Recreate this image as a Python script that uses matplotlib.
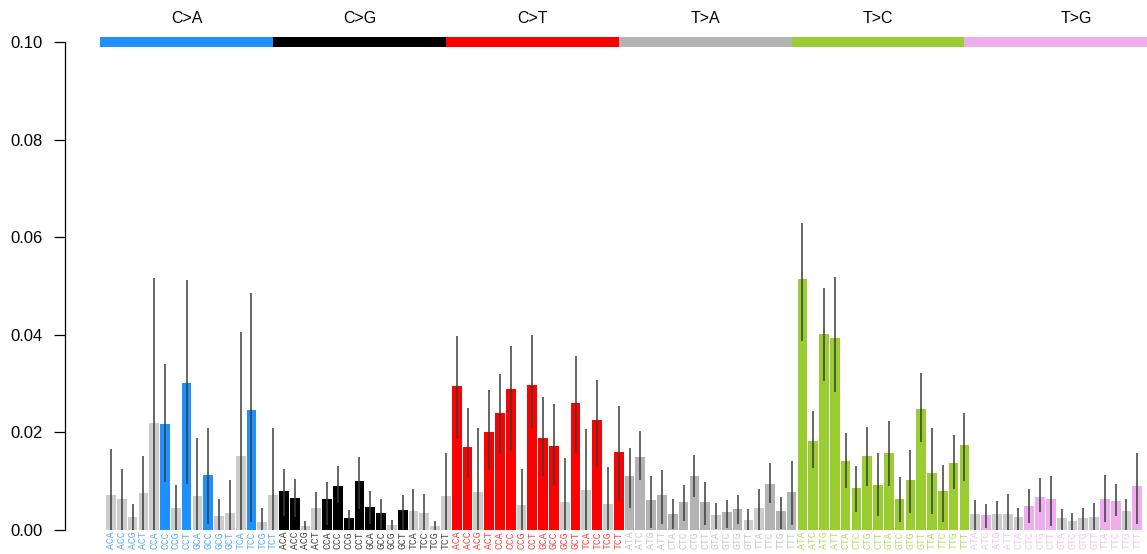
import numpy as np
import matplotlib.pyplot as plt
from matplotlib.patches import Rectangle

plt.rcParams['font.family'] = ['Liberation Sans', 'DejaVu Sans']

classes = ['C>A', 'C>G', 'C>T', 'T>A', 'T>C', 'T>G']
class_colors = ['#1E90FF', '#000000', '#FF0000', '#B3B3B3', '#9ACD32', '#EEAEEE']
nonsig_color = '#CCCCCC'

# trinucleotide contexts (16 per class)
c_contexts = ['ACA', 'ACC', 'ACG', 'ACT', 'CCA', 'CCC', 'CCG', 'CCT',
              'GCA', 'GCC', 'GCG', 'GCT', 'TCA', 'TCC', 'TCG', 'TCT']
t_contexts = ['ATA', 'ATC', 'ATG', 'ATT', 'CTA', 'CTC', 'CTG', 'CTT',
              'GTA', 'GTC', 'GTG', 'GTT', 'TTA', 'TTC', 'TTG', 'TTT']

# C>A
ca_val = [0.0072, 0.0064, 0.0027, 0.0076, 0.0220, 0.0217, 0.0045, 0.0301,
          0.0070, 0.0113, 0.0029, 0.0035, 0.0152, 0.0246, 0.0016, 0.0072]
ca_lo = [0, 0, 0, 0, 0, 0.0098, 0, 0.0094, 0, 0.0012, 0, 0, 0, 0.0017, 0, 0]
ca_hi = [0.0165, 0.0126, 0.0053, 0.0152, 0.0516, 0.0340, 0.0092, 0.0512,
         0.0188, 0.0208, 0.0063, 0.0102, 0.0405, 0.0486, 0.0046, 0.0210]
ca_sig = [0, 0, 0, 0, 0, 1, 0, 1, 0, 1, 0, 0, 0, 1, 0, 0]

# C>G
cg_val = [0.0080, 0.0066, 0.0008, 0.0045, 0.0064, 0.0090, 0.0025, 0.0100,
          0.0047, 0.0035, 0.0010, 0.0041, 0.0039, 0.0035, 0.0008, 0.0070]
cg_lo = [0.0029, 0.0026, 0, 0, 0.0010, 0.0056, 0.0003, 0.0044,
         0.0012, 0.0003, 0, 0, 0, 0, 0, 0]
cg_hi = [0.0126, 0.0104, 0.0018, 0.0078, 0.0098, 0.0132, 0.0042, 0.0150,
         0.0079, 0.0063, 0.0020, 0.0072, 0.0085, 0.0074, 0.0018, 0.0158]
cg_sig = [1, 1, 0, 0, 1, 1, 1, 1, 1, 1, 0, 1, 0, 0, 0, 0]

# C>T
ct_val = [0.0295, 0.0170, 0.0078, 0.0201, 0.0240, 0.0289, 0.0052, 0.0297,
          0.0189, 0.0172, 0.0057, 0.0260, 0.0082, 0.0225, 0.0053, 0.0160]
ct_lo = [0.0187, 0.0107, 0, 0.0126, 0.0158, 0.0161, 0, 0.0208,
         0.0111, 0.0093, 0, 0.0156, 0, 0.0130, 0, 0.0059]
ct_hi = [0.0398, 0.0251, 0.0210, 0.0286, 0.0320, 0.0377, 0.0125, 0.0400,
         0.0272, 0.0258, 0.0148, 0.0357, 0.0206, 0.0307, 0.0130, 0.0255]
ct_sig = [1, 1, 0, 1, 1, 1, 0, 1, 1, 1, 0, 1, 0, 1, 0, 1]

# T>A
ta_val = [0.0111, 0.0150, 0.0061, 0.0072, 0.0033, 0.0057, 0.0111, 0.0057,
          0.0031, 0.0037, 0.0043, 0.0020, 0.0045, 0.0094, 0.0039, 0.0078]
ta_lo = [0.0045, 0.0102, 0.0004, 0.0012, 0.0003, 0.0018, 0.0067, 0.0011,
         0.0003, 0.0005, 0.0012, 0, 0, 0.0056, 0.0003, 0.0010]
ta_hi = [0.0169, 0.0203, 0.0111, 0.0123, 0.0063, 0.0092, 0.0154, 0.0098,
         0.0055, 0.0061, 0.0071, 0.0044, 0.0085, 0.0138, 0.0067, 0.0141]
ta_sig = [1, 1, 1, 1, 1, 1, 1, 1, 0, 1, 1, 0, 0, 1, 1, 1]

# T>C
tc_val = [0.0514, 0.0182, 0.0402, 0.0393, 0.0141, 0.0086, 0.0152, 0.0092,
          0.0158, 0.0064, 0.0102, 0.0248, 0.0117, 0.0080, 0.0137, 0.0174]
tc_lo = [0.0388, 0.0128, 0.0306, 0.0282, 0.0087, 0.0036, 0.0091, 0.0029,
         0.0091, 0.0017, 0.0035, 0.0181, 0.0033, 0.0017, 0.0084, 0.0101]
tc_hi = [0.0630, 0.0243, 0.0495, 0.0518, 0.0199, 0.0132, 0.0212, 0.0157,
         0.0223, 0.0109, 0.0163, 0.0321, 0.0208, 0.0133, 0.0195, 0.0239]
tc_sig = [1] * 16

# T>G
tg_val = [0.0033, 0.0031, 0.0033, 0.0033, 0.0027, 0.0049, 0.0068, 0.0064,
          0.0025, 0.0018, 0.0025, 0.0027, 0.0064, 0.0059, 0.0039, 0.0090]
tg_lo = [0, 0.0005, 0, 0, 0, 0.0015, 0.0037, 0.0009,
         0, 0, 0, 0, 0.0017, 0.0029, 0, 0.0012]
tg_hi = [0.0061, 0.0053, 0.0059, 0.0074, 0.0046, 0.0083, 0.0106, 0.0111,
         0.0044, 0.0034, 0.0046, 0.0055, 0.0113, 0.0094, 0.0064, 0.0158]
tg_sig = [0, 1, 0, 0, 0, 1, 1, 1, 0, 0, 0, 0, 1, 1, 0, 1]

vals = ca_val + cg_val + ct_val + ta_val + tc_val + tg_val
lows = ca_lo + cg_lo + ct_lo + ta_lo + tc_lo + tg_lo
highs = ca_hi + cg_hi + ct_hi + ta_hi + tc_hi + tg_hi
sigs = ca_sig + cg_sig + ct_sig + ta_sig + tc_sig + tg_sig
labels = c_contexts * 3 + t_contexts * 3

x = np.arange(len(vals))
cls_idx = x // 16
bar_colors = [class_colors[c] if s else nonsig_color for c, s in zip(cls_idx, sigs)]
label_colors = [class_colors[c] for c in cls_idx]

fig = plt.figure(figsize=(11.47, 5.54), dpi=100)
ax = fig.add_axes([65 / 1147, 24 / 554, 1 - 65 / 1147, 530 / 554])
ax.set_xlim(-4.26, 95.9)
ax.set_ylim(0, 0.1086)

ax.bar(x, vals, width=0.9, color=bar_colors, edgecolor='none')
ax.vlines(x, lows, highs, color='#3c3c3c', lw=1.1)

# class strip on top
strip_edges = [-1, 15, 31, 47, 63, 79, 99.8]
for k, cls in enumerate(classes):
    a, b = strip_edges[k], strip_edges[k + 1]
    ax.add_patch(Rectangle((a, 0.0990), b - a, 0.0020, color=class_colors[k], lw=0))
    ax.text((a + b) / 2, 0.1049, cls, ha='center', va='center', fontsize=11.5)

ax.set_xticks(x)
ax.set_xticklabels(labels, rotation=90, family='Liberation Mono', fontsize=7)
for t, c in zip(ax.get_xticklabels(), label_colors):
    t.set_color(c)
    t.set_alpha(0.75)
ax.tick_params(axis='x', length=0, pad=1)

ax.set_yticks([0.0, 0.02, 0.04, 0.06, 0.08, 0.10])
ax.set_yticklabels(['0.00', '0.02', '0.04', '0.06', '0.08', '0.10'])
ax.tick_params(axis='y', length=8, width=0.9, pad=8, labelsize=12)

for s in ['top', 'right', 'bottom']:
    ax.spines[s].set_visible(False)
ax.spines['left'].set_bounds(0, 0.10)
ax.spines['left'].set_linewidth(0.9)

plt.savefig('out.png', dpi=100)
